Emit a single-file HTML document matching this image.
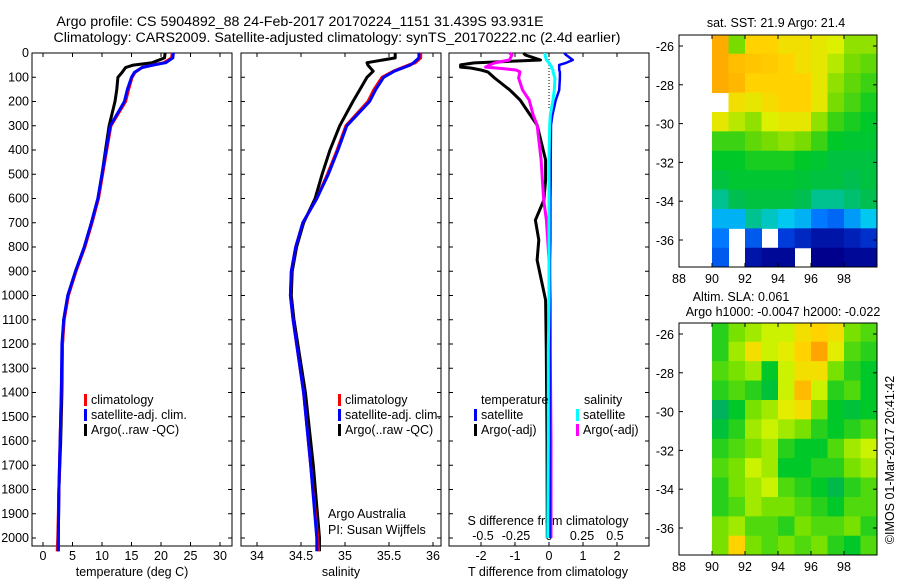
<!DOCTYPE html>
<html><head><meta charset="utf-8"><style>
html,body{margin:0;padding:0;background:#fff;}
svg{display:block;font-family:"Liberation Sans",sans-serif;}
text{font-size:12.5px;fill:#000;}
</style></head><body>
<svg id="chart" width="900" height="580" viewBox="0 0 900 580" xmlns="http://www.w3.org/2000/svg">
<text x="300" y="26" text-anchor="middle" style="font-size:14.2px">Argo profile: CS 5904892_88 24-Feb-2017 20170224_1151 31.439S 93.931E</text>
<text x="337" y="42" text-anchor="middle" style="font-size:14.2px">Climatology: CARS2009. Satellite-adjusted climatology: synTS_20170222.nc (2.4d earlier)</text>
<g id="g"></g>
</svg>
<script>
// ---- profile data ----
const tDepth = [0,20,40,50,60,80,100,150,200,300,400,500,600,700,800,900,1000,1100,1200,1400,1600,1800,2000,2055];
const tClim  = [21.9,21.8,20.5,18.5,16.8,15.6,15.1,14.5,14.0,11.5,10.8,10.1,9.4,8.3,7.1,5.6,4.3,3.6,3.3,3.1,2.9,2.7,2.5,2.4];
const tSat   = [22.1,22.0,20.8,18.6,16.8,15.5,15.0,14.3,13.8,11.4,10.7,10.0,9.3,8.2,7.0,5.5,4.2,3.5,3.2,3.1,2.9,2.7,2.6,2.6];
const tArgo  = [20.7,20.6,18.5,15.3,14.0,13.4,12.7,12.5,12.2,11.2,10.6,10.0,9.3,8.2,7.0,5.5,4.2,3.5,3.3,3.2,3.0,2.7,2.6,2.6];
const sDepth = [0,20,40,50,75,100,150,200,300,400,500,600,700,800,900,1000,1100,1400,1700,2000,2055];
const sClim  = [35.86,35.86,35.80,35.72,35.55,35.42,35.33,35.26,35.01,34.91,34.80,34.68,34.52,34.44,34.39,34.38,34.41,34.53,34.61,34.69,34.70];
const sSat   = [35.84,35.84,35.78,35.74,35.56,35.44,35.35,35.28,35.02,34.92,34.81,34.68,34.52,34.44,34.39,34.38,34.41,34.53,34.61,34.68,34.68];
const sArgo  = [35.57,35.57,35.25,35.26,35.32,35.25,35.17,35.09,34.94,34.83,34.74,34.66,34.53,34.45,34.40,34.39,34.42,34.55,34.64,34.71,34.71];
// ---- difference data ----
const dDepth  = [0,8,29,41,49,58,62,70,78,103,153,194,256,297,441,524,606,689,771,854,1019,1225,1600,2000];
const dTArgo  = [-0.75,-0.7,-0.25,-2.2,-2.6,-2.6,-2.3,-2.0,-1.8,-1.6,-1.15,-0.85,-0.55,-0.35,-0.1,-0.1,-0.15,-0.4,-0.3,-0.35,-0.1,-0.08,-0.06,-0.05];
const dTSat   = [0.45,0.5,0.7,0.5,0.3,0.3,0.3,0.3,0.32,0.32,0.3,0.2,0.1,0.06,0.05,0.05,0.04,0.04,0.04,0.03,0.03,0.03,0.03,0.03];
const dSArgo  = [-0.3,-0.28,-0.3,-0.41,-0.45,-0.48,-0.4,-0.25,-0.22,-0.23,-0.2,-0.15,-0.12,-0.09,-0.06,-0.05,-0.04,-0.02,-0.01,0.0,0.01,0.01,0.015,0.015];
const dSSat   = [-0.03,-0.03,-0.02,0.0,0.01,0.02,0.02,0.03,0.03,0.045,0.04,0.03,0.01,0.005,0.0,0.0,0.0,0.0,0.0,0.0,0.0,-0.005,-0.005,-0.01];
// ---- ticks ----
const depthTicks = [0,100,200,300,400,500,600,700,800,900,1000,1100,1200,1300,1400,1500,1600,1700,1800,1900,2000];
const tempTicks = [0,5,10,15,20,25,30];
const salTicks = [34,34.5,35,35.5,36];
const salTickLabels = ["34","34.5","35","35.5","36"];
const tdTicks = [-2,-1,0,1,2];
const sdTicks = [-0.5,-0.25,0,0.25,0.5];
const latTicks = [-26,-28,-30,-32,-34,-36];
const lonTicks = [88,90,92,94,96,98];
// ---- maps (1 deg cells, rows from -25.4 southwards, cols lon 90..99) ----
const mapLats = [-25.4,-26.4,-27.4,-28.4,-29.4,-30.4,-31.4,-32.4,-33.4,-34.4,-35.4,-36.4];
const mapLons = [90,91,92,93,94,95,96,97,98,99];
const sstGrid = [
[0.85,0.6,0.75,0.75,0.72,0.72,0.7,0.68,0.62,0.62],
[0.85,0.8,0.78,0.77,0.75,0.72,0.7,0.65,0.6,0.58],
[0.85,0.82,0.75,0.75,0.75,0.75,0.7,0.62,0.58,0.55],
[null,0.72,0.7,0.73,0.75,0.75,0.7,0.6,0.56,0.52],
[0.7,0.65,0.62,0.68,0.7,0.7,0.62,0.55,0.52,0.5],
[0.55,0.55,0.58,0.6,0.62,0.6,0.55,0.5,0.48,0.48],
[0.5,0.5,0.52,0.52,0.52,0.5,0.48,0.45,0.45,0.45],
[0.45,0.48,0.48,0.48,0.48,0.47,0.45,0.45,0.42,0.45],
[0.38,0.42,0.45,0.45,0.45,0.42,0.38,0.38,0.4,0.42],
[0.3,0.3,0.38,0.35,0.32,0.3,0.25,0.22,0.28,0.32],
[0.25,null,0.2,null,0.15,0.1,0.05,0.05,0.08,0.12],
[0.2,null,0.05,0.02,0.02,null,0.0,0.0,0.02,0.02]];
const slaGrid = [
[0.4,0.5,0.55,0.6,0.6,0.7,0.75,0.7,0.5,0.45],
[0.4,0.55,0.7,0.6,0.65,0.75,0.85,0.65,0.45,0.4],
[0.45,0.5,0.55,0.35,0.6,0.7,0.7,0.5,0.4,0.35],
[0.4,0.45,0.4,0.3,0.6,0.8,0.6,0.4,0.45,0.35],
[0.2,0.35,0.5,0.55,0.65,0.7,0.5,0.35,0.3,0.35],
[0.3,0.4,0.55,0.6,0.55,0.5,0.4,0.35,0.4,0.45],
[0.4,0.45,0.5,0.55,0.4,0.35,0.35,0.45,0.55,0.6],
[0.45,0.5,0.6,0.55,0.35,0.35,0.4,0.4,0.5,0.55],
[0.4,0.5,0.55,0.6,0.45,0.4,0.35,0.25,0.4,0.45],
[0.4,0.45,0.55,0.5,0.5,0.45,0.4,0.35,0.45,0.45],
[0.5,0.55,0.45,0.45,0.4,0.5,0.45,0.45,0.5,0.4],
[0.5,0.75,0.5,0.45,0.5,0.45,0.5,0.4,0.35,0.45]];

const NS='http://www.w3.org/2000/svg';
const G=document.getElementById('g');
function el(tag,attrs,parent){const e=document.createElementNS(NS,tag);for(const k in attrs)e.setAttribute(k,attrs[k]);(parent||G).appendChild(e);return e;}
function txt(s,x,y,anchor,name,parent){const t=el('text',{x:x,y:y,'text-anchor':anchor||'start'},parent);t.textContent=s;


return t;}

const PT=53, PB=546;
const yD = d => 53 + d*0.2425;
const xT = t => 43 + t*5.9;
const xS = s => 257 + (s-34)*88;
const xTD = v => 549 + v*34;
const xSD = v => 549 + v*132;

function frame(x0,x1,name){
  const r=el('rect',{x:x0,y:PT,width:x1-x0,height:PB-PT,fill:'none',stroke:'#000','stroke-width':1});
  
  
  depthTicks.forEach(d=>{el('line',{x1:x0,x2:x0+4,y1:yD(d),y2:yD(d),stroke:'#000'});el('line',{x1:x1-4,x2:x1,y1:yD(d),y2:yD(d),stroke:'#000'});});
}
function line(xs,ds,fx,color,w,name){
  const pts=xs.map((v,i)=>fx(v).toFixed(1)+','+yD(ds[i]).toFixed(1)).join(' ');
  const p=el('polyline',{points:pts,fill:'none',stroke:color,'stroke-width':w,'stroke-linejoin':'round'});
  
  
}
function xticks(ticks,fx,labels,name,ly){
  ticks.forEach((t,i)=>{el('line',{x1:fx(t),x2:fx(t),y1:PB,y2:PB-4,stroke:'#000'});el('line',{x1:fx(t),x2:fx(t),y1:PT,y2:PT+4,stroke:'#000'});
    txt(labels?labels[i]:String(t),fx(t),ly||560,'middle',name);});
}
function legend(x,y,items){
  items.forEach((it,i)=>{el('rect',{x:x,y:y+i*15-10,width:3,height:12,fill:it[0]});txt(it[1],x+7,y+i*15,'start','legend-entry');});
}

// panel 1 temperature
frame(32,232,'temperature-panel');
depthTicks.forEach(d=>txt(String(d),29,yD(d)+4,'end','depth-tick-label'));
xticks(tempTicks,xT,null,'temperature-tick-label');
txt('temperature (deg C)',132,576,'middle','temperature-axis-title');
line(tArgo,tDepth,xT,'#000',3,'temperature-argo-line');
line(tClim,tDepth,xT,'#f00',3,'temperature-climatology-line');
line(tSat,tDepth,xT,'#00f',3,'temperature-satellite-line');
legend(84,404,[['#f00','climatology'],['#00f','satellite-adj. clim.'],['#000','Argo(..raw -QC)']]);

// panel 2 salinity
frame(241,441,'salinity-panel');
xticks(salTicks,xS,salTickLabels,'salinity-tick-label');
txt('salinity',341,576,'middle','salinity-axis-title');
line(sArgo,sDepth,xS,'#000',3,'salinity-argo-line');
line(sClim,sDepth,xS,'#f00',3,'salinity-climatology-line');
line(sSat,sDepth,xS,'#00f',3,'salinity-satellite-line');
legend(338,404,[['#f00','climatology'],['#00f','satellite-adj. clim.'],['#000','Argo(..raw -QC)']]);
txt('Argo Australia',328,518,'start','credit-line-1');
txt('PI: Susan Wijffels',328,534,'start','credit-line-2');

// panel 3 differences
frame(449,649,'difference-panel');
xticks(tdTicks,xTD,null,'t-diff-tick-label');
sdTicks.forEach(t=>txt(String(t),xSD(t),540,'middle','s-diff-tick-label'));
txt('S difference from climatology',548,525,'middle','s-diff-axis-title');
txt('T difference from climatology',548,576,'middle','t-diff-axis-title');
el('line',{x1:549,x2:549,y1:PT,y2:110,stroke:'#000','stroke-dasharray':'1,2'});
line(dTArgo,dDepth,xTD,'#000',3,'t-diff-argo-line');
line(dSArgo,dDepth,xSD,'#f0f',3,'s-diff-argo-line');
line(dTSat,dDepth,xTD,'#00f',2.5,'t-diff-satellite-line');
line(dSSat,dDepth,xSD,'#0ff',3,'s-diff-satellite-line');
txt('temperature',481,404,'start','legend-header-temperature');
txt('salinity',584,404,'start','legend-header-salinity');
legend(474,419,[['#00f','satellite'],['#000','Argo(-adj)']]);
legend(576,419,[['#0ff','satellite'],['#f0f','Argo(-adj)']]);

// maps
const xL = lon => 679 + (lon-88)*16.5;
function sstColor(v){
  const st=[[0,[0,0,140]],[0.15,[0,60,220]],[0.25,[0,120,255]],[0.32,[0,200,240]],[0.42,[0,190,80]],[0.5,[0,200,40]],[0.6,[120,220,0]],[0.68,[220,240,0]],[0.75,[255,210,0]],[0.88,[255,160,0]]];
  return interp(st,v);}
function slaColor(v){
  const st=[[0.15,[0,170,110]],[0.35,[0,200,40]],[0.5,[120,225,0]],[0.62,[220,245,0]],[0.75,[255,210,0]],[0.88,[255,150,0]]];
  return interp(st,v);}
function interp(st,v){
  if(v<=st[0][0])return 'rgb('+st[0][1]+')';
  for(let i=1;i<st.length;i++){if(v<=st[i][0]){const f=(v-st[i-1][0])/(st[i][0]-st[i-1][0]);const a=st[i-1][1],b=st[i][1];return 'rgb('+a.map((c,j)=>Math.round(c+(b[j]-c)*f)).join(',')+')';}}
  return 'rgb('+st[st.length-1][1]+')';}
function map(top,bottom,lat26,grid,colorFn,name){
  const yL = lat => lat26 + (-26-lat)*19.4;
  mapLats.forEach((lat,r)=>mapLons.forEach((lon,c)=>{
    const v=grid[r][c]; if(v===null)return;
    const y0=Math.max(top,yL(lat)), y1=Math.min(bottom,yL(lat-1));
    const x1=Math.min(877,xL(lon+1));
    const cell=el('rect',{x:xL(lon),y:y0,width:x1-xL(lon)+0.5,height:y1-y0+0.5,fill:colorFn(v)});
    
    
  }));
  const fr=el('rect',{x:679,y:top,width:198,height:bottom-top,fill:'none',stroke:'#000'});
  
  
  latTicks.forEach(l=>{el('line',{x1:679,x2:683,y1:yL(l),y2:yL(l),stroke:'#000'});el('line',{x1:873,x2:877,y1:yL(l),y2:yL(l),stroke:'#000'});txt(String(l),674,yL(l)+5,'end','lat-tick-label');});
  lonTicks.forEach(l=>{el('line',{x1:xL(l),x2:xL(l),y1:bottom,y2:bottom-4,stroke:'#000'});el('line',{x1:xL(l),x2:xL(l),y1:top,y2:top+4,stroke:'#000'});txt(String(l),xL(l),bottom+16,'middle','lon-tick-label');});
}
map(35,267,46,sstGrid,sstColor,'sst-map');
txt('sat. SST: 21.9 Argo: 21.4',776,27,'middle','sst-map-title');
map(323,555,334,slaGrid,slaColor,'sla-map');
txt('Altim. SLA: 0.061',741,301,'middle','sla-map-title');
txt('Argo h1000: -0.0047 h2000: -0.022',783,316,'middle','sla-map-subtitle');
const c=txt('©IMOS 01-Mar-2017 20:41:42',0,0,'middle','copyright-stamp');
c.setAttribute('transform','translate(894,460) rotate(-90)');
</script>
</body></html>
